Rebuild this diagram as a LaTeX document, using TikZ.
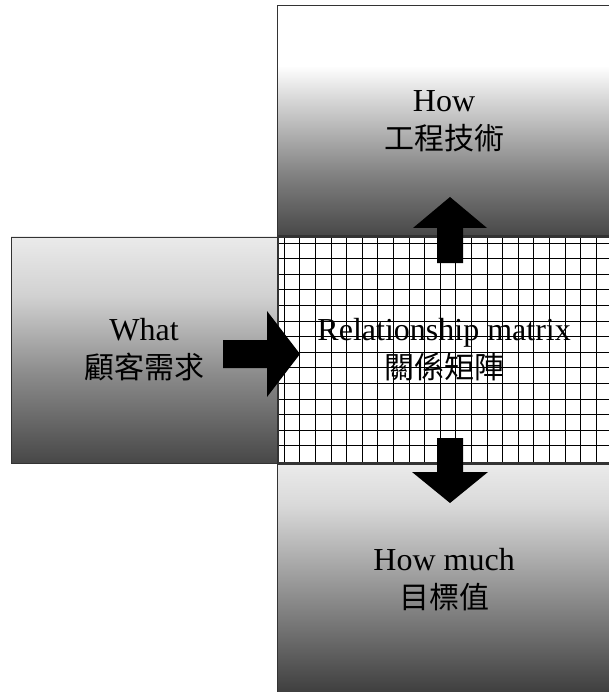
\documentclass[tikz,border=0pt]{standalone}
\usepackage{fontspec}
\setmainfont{Liberation Serif}
\newfontfamily\cjk{Noto Sans CJK TC}
\usetikzlibrary{positioning}

\pgfdeclareverticalshading{howshade}{100bp}{color(0bp)=(black!72); color(25bp)=(black!72); color(38bp)=(black!50); color(55bp)=(black!15); color(62bp)=(white); color(100bp)=(white)}
\pgfdeclareverticalshading{whatshade}{100bp}{color(0bp)=(black!72); color(25bp)=(black!72); color(45bp)=(black!45); color(62bp)=(black!18); color(75bp)=(black!8); color(100bp)=(black!8)}
\pgfdeclareverticalshading{muchshade}{100bp}{color(0bp)=(black!76); color(25bp)=(black!76); color(48bp)=(black!42); color(66bp)=(black!15); color(75bp)=(black!8); color(100bp)=(black!8)}

\tikzset{
  quadbox/.style={draw=black!80, line width=0.8pt, inner sep=0pt, align=center,
    font=\fontsize{32}{38}\selectfont},
  gridline/.style={black, line width=0.8pt},
  blockarrow/.style={fill=black}
}
\newcommand{\cjklabel}[1]{{\cjk\fontsize{30}{38}\selectfont #1}}

\begin{document}
\begin{tikzpicture}[x=1pt, y=-1pt]
  \useasboundingbox (0,0) rectangle (609,692);

  \node[quadbox, shading=whatshade, minimum width=266pt, minimum height=226pt]
    (what) at (144,350) {What\\\cjklabel{顧客需求}};
  \node[quadbox, fill=white, line width=1.4pt, minimum width=332pt, minimum height=226pt,
        right=0pt of what,
        path picture={
          \foreach \k in {1,...,21}
            \draw[gridline] ([xshift=\k*15.6pt-9.6pt]path picture bounding box.north west)
              -- ([xshift=\k*15.6pt-9.6pt]path picture bounding box.south west);
          \foreach \k in {1,...,14}
            \draw[gridline] ([yshift=-\k*15.6pt+9.6pt]path picture bounding box.north west)
              -- ([yshift=-\k*15.6pt+9.6pt]path picture bounding box.north east);
        }]
    (matrix) {Relationship matrix\\\cjklabel{關係矩陣}};
  \node[quadbox, shading=howshade, minimum width=334pt, minimum height=230pt,
        above=0pt of matrix]
    (how) {How\\\cjklabel{工程技術}};
  \node[quadbox, shading=muchshade, minimum width=334pt, minimum height=230pt,
        below=0pt of matrix]
    (howmuch) {How much\\\cjklabel{目標值}};

  % block arrows out of the matrix
  \coordinate (uptail) at (450,263);
  \coordinate (downtail) at (450,438);
  \coordinate (righttail) at (223,354);
  \fill[blockarrow] (uptail) ++(-13,0) -- ++(0,-35) -- ++(-24,0) -- ++(37,-31)
    -- ++(37,31) -- ++(-24,0) -- ++(0,35) -- cycle;
  \fill[blockarrow] (downtail) ++(-13,0) -- ++(0,34) -- ++(-25,0) -- ++(38,31)
    -- ++(38,-31) -- ++(-25,0) -- ++(0,-34) -- cycle;
  \fill[blockarrow] (righttail) ++(0,-14) -- ++(44,0) -- ++(0,-29) -- ++(33,43)
    -- ++(-33,43) -- ++(0,-29) -- ++(-44,0) -- cycle;
\end{tikzpicture}
\end{document}
